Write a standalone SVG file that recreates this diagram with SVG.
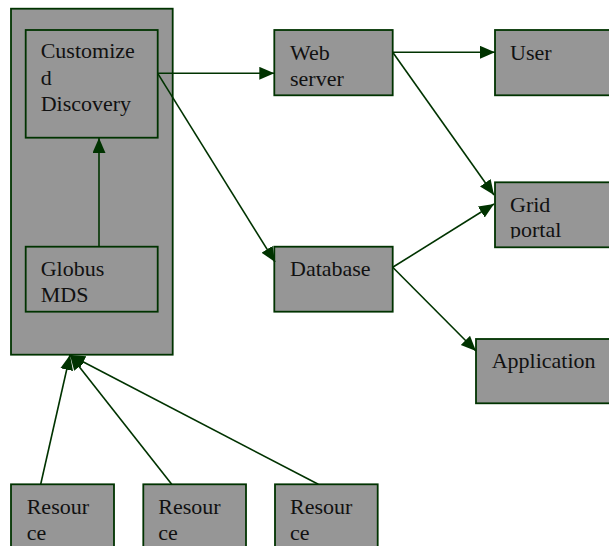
<svg xmlns="http://www.w3.org/2000/svg" width="609" height="546" viewBox="0 0 609 546">
  <style>
    .box { fill: #969696; stroke: #003300; stroke-width: 1.8; }
    .edge { fill: none; stroke: #003300; stroke-width: 1.6; marker-end: url(#arrow); }
  </style>
  <defs>
    <marker id="arrow" markerUnits="userSpaceOnUse" markerWidth="16" markerHeight="14" refX="15" refY="6.5" orient="auto">
      <path d="M0,0 L15,6.5 L0,13 Z" fill="#003300"/>
    </marker>
    <clipPath id="gridClip">
      <rect x="495" y="182" width="114" height="56.5"/>
    </clipPath>
  </defs>

  <rect width="609" height="546" fill="#ffffff"/>

  <!-- container holding the discovery service and MDS -->
  <g id="container">
    <rect class="box" x="11" y="8.7" width="161.7" height="346"/>
  </g>

  <g font-family="Liberation Serif, Times New Roman, DejaVu Serif, serif" font-size="22" fill="#111111">
    <g id="discovery">
      <rect class="box" x="25.7" y="30" width="132" height="107.7"/>
      <text x="40.7" y="58">Customize</text>
      <text x="40.7" y="84.5">d</text>
      <text x="40.7" y="110.5">Discovery</text>
    </g>

    <g id="mds">
      <rect class="box" x="25.7" y="246.7" width="132" height="65"/>
      <text x="40.7" y="276">Globus</text>
      <text x="40.7" y="301.7">MDS</text>
    </g>

    <g id="webserver">
      <rect class="box" x="274.3" y="30" width="118.4" height="65.3"/>
      <text x="290" y="60">Web</text>
      <text x="290" y="86">server</text>
    </g>

    <g id="database">
      <rect class="box" x="274.3" y="246.7" width="118.4" height="65"/>
      <text x="290" y="276">Database</text>
    </g>

    <g id="user">
      <rect class="box" x="495" y="30" width="130" height="65.3"/>
      <text x="510" y="59.5">User</text>
    </g>

    <g id="gridportal">
      <rect class="box" x="495" y="182.3" width="130" height="65"/>
      <g clip-path="url(#gridClip)">
        <text x="510" y="211.7">Grid</text>
        <text x="510" y="237">portal</text>
      </g>
    </g>

    <g id="application">
      <rect class="box" x="476" y="339" width="150" height="64.3"/>
      <text x="491.7" y="368.3">Application</text>
    </g>

    <g id="resource1">
      <rect class="box" x="11" y="484.3" width="103" height="80"/>
      <text x="26.7" y="514">Resour</text>
      <text x="26.7" y="539.5">ce</text>
    </g>

    <g id="resource2">
      <rect class="box" x="143.3" y="484.3" width="102.7" height="80"/>
      <text x="158.3" y="514">Resour</text>
      <text x="158.3" y="539.5">ce</text>
    </g>

    <g id="resource3">
      <rect class="box" x="275" y="484.3" width="102.7" height="80"/>
      <text x="290" y="514">Resour</text>
      <text x="290" y="539.5">ce</text>
    </g>
  </g>

  <!-- connectors -->
  <g id="connectors">
    <line class="edge" x1="99" y1="246.7" x2="99" y2="138"/>
    <line class="edge" x1="157.7" y1="73.3" x2="274.3" y2="73.3"/>
    <line class="edge" x1="157.7" y1="73.3" x2="275" y2="262"/>
    <line class="edge" x1="392.7" y1="52.3" x2="495" y2="52.3"/>
    <line class="edge" x1="392.7" y1="52.3" x2="494" y2="195"/>
    <line class="edge" x1="392.7" y1="267.3" x2="494" y2="204"/>
    <line class="edge" x1="392.7" y1="267.3" x2="476" y2="351"/>
    <line class="edge" x1="40.7" y1="484.3" x2="70" y2="355"/>
    <line class="edge" x1="171.7" y1="484.3" x2="70" y2="355"/>
    <line class="edge" x1="318.3" y1="484.3" x2="70" y2="355"/>
  </g>
</svg>
